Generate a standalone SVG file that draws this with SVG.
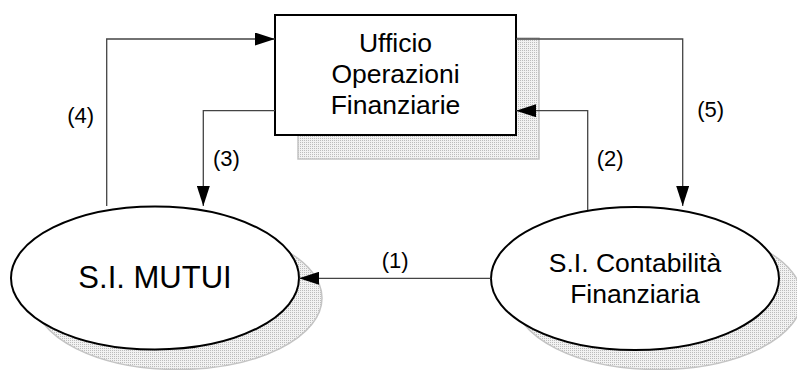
<svg xmlns="http://www.w3.org/2000/svg" width="797" height="370" viewBox="0 0 797 370">
<defs>
<pattern id="dots" width="2" height="2" patternUnits="userSpaceOnUse">
<rect width="2" height="2" fill="#f2f2f2"/>
<rect width="1" height="1" fill="#bcbcbc"/>
</pattern>
<marker id="arr" viewBox="0 0 20 13" refX="20" refY="6.5" markerWidth="20" markerHeight="13" markerUnits="userSpaceOnUse" orient="auto">
<path d="M0,0 L20,6.5 L0,13 Z" fill="#000"/>
</marker>
</defs>
<style>
.shadow{fill:url(#dots);stroke:#c4c4c4;stroke-width:1.5}
.node{fill:#fff;stroke:#000;stroke-width:2}
.conn{fill:none;stroke:#444;stroke-width:1.3;marker-end:url(#arr)}
.t{font-family:"Liberation Sans",Arial,sans-serif;fill:#000;text-anchor:middle}
.lbl{font-family:"Liberation Sans",Arial,sans-serif;font-size:22px;fill:#000}
</style>
<g id="ufficio">
<rect class="shadow" x="298" y="38" width="241" height="121"/>
<rect class="node" x="275" y="15" width="241" height="120"/>
<text class="t" font-size="26.5" x="395.5" y="52">Ufficio</text>
<text class="t" font-size="26.5" x="395.5" y="83">Operazioni</text>
<text class="t" font-size="26.5" x="395.5" y="113.5">Finanziarie</text>
</g>
<g id="mutui">
<ellipse class="shadow" cx="178" cy="298" rx="144" ry="71.5"/>
<ellipse class="node" cx="155" cy="278" rx="144" ry="71.5"/>
<text class="t" font-size="31" x="155" y="288">S.I. MUTUI</text>
</g>
<g id="contabilita">
<ellipse class="shadow" cx="658" cy="298" rx="144" ry="71.5"/>
<ellipse class="node" cx="635" cy="278.5" rx="144" ry="71.5"/>
<text class="t" font-size="26.5" x="635" y="272">S.I. Contabilità</text>
<text class="t" font-size="26.5" x="635" y="303">Finanziaria</text>
</g>
<g id="connectors">
<path class="conn" d="M106.7,206 V39 H275"/>
<path class="conn" d="M275,110.7 H203.3 V206"/>
<path class="conn" d="M516,39 H682.7 V206"/>
<path class="conn" d="M587.7,210 V110.7 H516"/>
<path class="conn" d="M490.7,278.3 H299"/>
</g>
<g id="labels">
<text class="lbl" x="67.3" y="123.3">(4)</text>
<text class="lbl" x="213" y="165.7">(3)</text>
<text class="lbl" x="596.7" y="165.7">(2)</text>
<text class="lbl" x="697.3" y="117.3">(5)</text>
<text class="lbl" x="381.7" y="268.3">(1)</text>
</g>
</svg>
